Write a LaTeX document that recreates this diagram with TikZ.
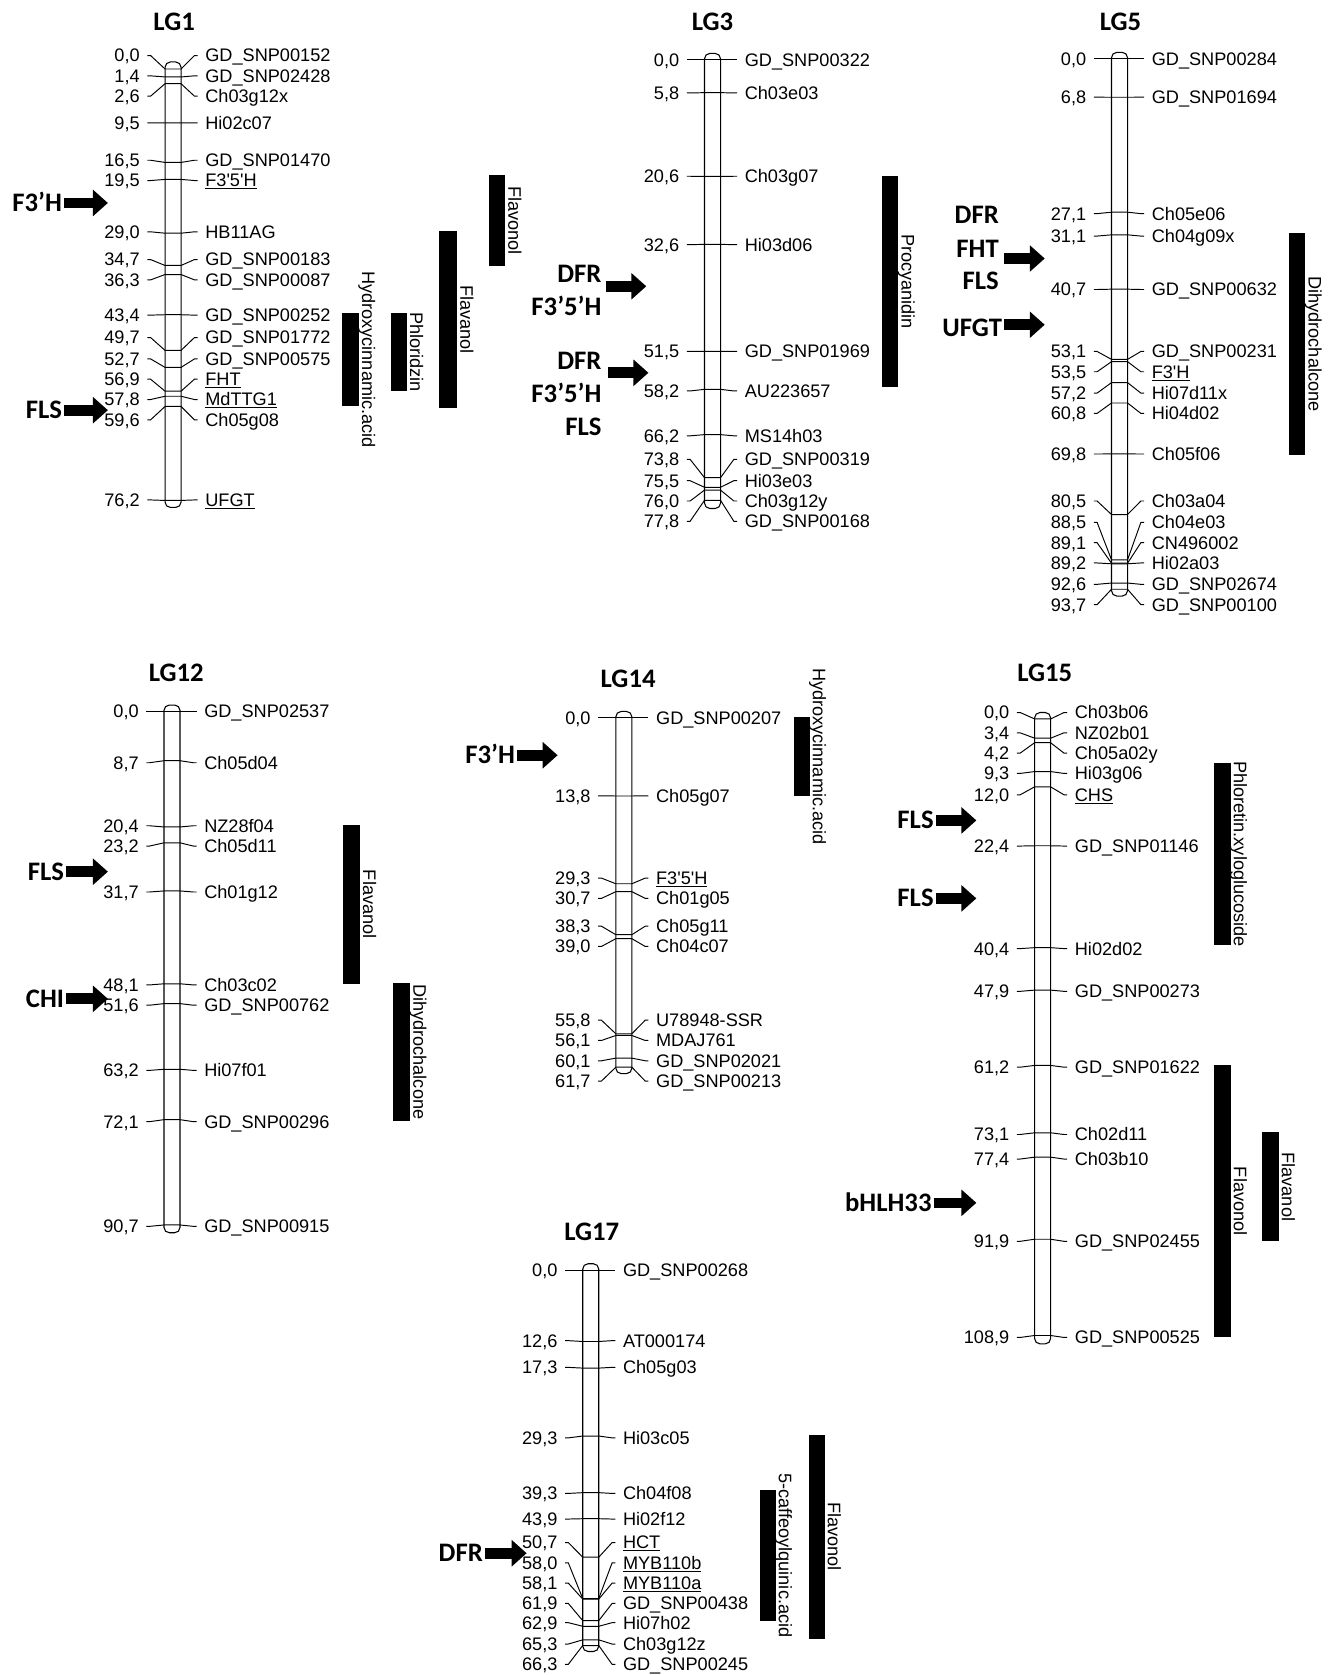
\documentclass[tikz,border=0pt]{standalone}
\usepackage{fontspec}
\usepackage{xstring}
\usetikzlibrary{arrows.meta}
\newfontfamily\mkfont{Liberation Sans}
\newfontfamily\lbfont{Carlito}

\tikzset{
  lgbar/.style={draw, fill=white, line width=1pt, rounded corners=5pt},
  tick/.style={line width=0.9pt},
  cmlab/.style={font=\mkfont\fontsize{17}{17}\selectfont, inner sep=0pt, text height=12pt, text depth=0pt, anchor=east},
  mklab/.style={font=\mkfont\fontsize{17}{17}\selectfont, inner sep=0pt, text height=12pt, text depth=0pt, anchor=west},
  lgtitle/.style={font=\lbfont\bfseries\fontsize{25}{25}\selectfont, inner sep=0pt},
  genelab/.style={font=\lbfont\bfseries\fontsize{25}{25}\selectfont, inner sep=0pt, outer sep=2pt, text height=16pt, text depth=0pt},
  genearrow/.style={line width=10pt, -{Triangle[length=14pt,width=24pt]}},
  qtlbar/.style={fill=black},
  qtllab/.style={font=\mkfont\fontsize{17}{17}\selectfont, rotate=-90, anchor=base, inner sep=0pt},
}

% one marker: #1 y of 0 cM, #2 cM, #3 label y, #4 name, #5 node prefix
\newcommand{\lgmark}[5]{%
  \pgfmathsetmacro{\ty}{#1+5.3*#2}%
  \StrSubstitute{#2}{.}{,}[\cmtxt]%
  \node[cmlab] (#5p) at (-31,#3) {\cmtxt};
  \node[mklab] (#5m) at (30,#3) {#4};
  \draw[tick] ([xshift=7pt]#5p.east) -- ++(3,0) -- (-7.5,\ty) -- (7.5,\ty)
    -- ([xshift=-10pt]#5m.west) -- ([xshift=-7pt]#5m.west);
}

\begin{document}
\begin{tikzpicture}[x=1pt,y=-1pt]
\useasboundingbox (0,0) rectangle (1249,1568);

% LG1
\begin{scope}[shift={(162,0)}]
  \node[lgtitle] (lg1) at (1,20) {LG1};
  \draw[lgbar] (-7.5,58) rectangle (7.5,475);
  \foreach \cm/\ly/\nm [count=\i] in {0.0/52/GD\_SNP00152, 1.4/71/GD\_SNP02428,
      2.6/90/Ch03g12x, 9.5/115/Hi02c07, 16.5/150/GD\_SNP01470, 19.5/169/\underline{F3'5'H},
      29.0/217/HB11AG, 34.7/243/GD\_SNP00183, 36.3/262/GD\_SNP00087, 43.4/295/GD\_SNP00252,
      49.7/316/GD\_SNP01772, 52.7/336/GD\_SNP00575, 56.9/355/\underline{FHT},
      57.8/374/\underline{MdTTG1}, 59.6/393/Ch05g08, 76.2/468/\underline{UFGT}}
    {\lgmark{64.6}{\cm}{\ly}{\nm}{a\i}}
\end{scope}

% LG3
\begin{scope}[shift={(667,0)}]
  \node[lgtitle] (lg3) at (0,20) {LG3};
  \draw[lgbar] (-7.5,50) rectangle (7.5,476);
  \foreach \cm/\ly/\nm [count=\i] in {0.0/56/GD\_SNP00322, 5.8/87/Ch03e03,
      20.6/165/Ch03g07, 32.6/229/Hi03d06, 51.5/329/GD\_SNP01969, 58.2/366/AU223657,
      66.2/408/MS14h03, 73.8/430/GD\_SNP00319, 75.5/450/Hi03e03, 76.0/469/Ch03g12y,
      77.8/488/GD\_SNP00168}
    {\lgmark{56}{\cm}{\ly}{\nm}{b\i}}
\end{scope}

% LG5
\begin{scope}[shift={(1048,0)}]
  \node[lgtitle] (lg5) at (1,20) {LG5};
  \draw[lgbar] (-7.5,49) rectangle (7.5,558);
  \foreach \cm/\ly/\nm [count=\i] in {0.0/55/GD\_SNP00284, 6.8/91/GD\_SNP01694,
      27.1/200/Ch05e06, 31.1/221/Ch04g09x, 40.7/271/GD\_SNP00632, 53.1/329/GD\_SNP00231,
      53.5/348/\underline{F3'H}, 57.2/368/Hi07d11x, 60.8/387/Hi04d02, 69.8/425/Ch05f06,
      80.5/469/Ch03a04, 88.5/489/Ch04e03, 89.1/508/CN496002, 89.2/527/Hi02a03,
      92.6/547/GD\_SNP02674, 93.7/566/GD\_SNP00100}
    {\lgmark{55}{\cm}{\ly}{\nm}{c\i}}
\end{scope}

% LG12
\begin{scope}[shift={(161,0)}]
  \node[lgtitle] (lg12) at (4,630) {LG12};
  \draw[lgbar] (-7.5,660) rectangle (7.5,1154);
  \foreach \cm/\ly/\nm [count=\i] in {0.0/666/GD\_SNP02537, 8.7/714/Ch05d04,
      20.4/773/NZ28f04, 23.2/792/Ch05d11, 31.7/835/Ch01g12, 48.1/922/Ch03c02,
      51.6/941/GD\_SNP00762, 63.2/1002/Hi07f01, 72.1/1050/GD\_SNP00296,
      90.7/1148/GD\_SNP00915}
    {\lgmark{666}{\cm}{\ly}{\nm}{d\i}}
\end{scope}

% LG14
\begin{scope}[shift={(584,0)}]
  \node[lgtitle] (lg14) at (4,635) {LG14};
  \draw[lgbar] (-7.5,666) rectangle (7.5,1005);
  \foreach \cm/\ly/\nm [count=\i] in {0.0/672/GD\_SNP00207, 13.8/745/Ch05g07,
      29.3/822/\underline{F3'5'H}, 30.7/841/Ch01g05, 38.3/867/Ch05g11, 39.0/886/Ch04c07,
      55.8/955/U78948-SSR, 56.1/974/MDAJ761, 60.1/993/GD\_SNP02021,
      61.7/1012/GD\_SNP00213}
    {\lgmark{672}{\cm}{\ly}{\nm}{e\i}}
\end{scope}

% LG15
\begin{scope}[shift={(976,0)}]
  \node[lgtitle] (lg15) at (2,630) {LG15};
  \draw[lgbar] (-7.5,667) rectangle (7.5,1258);
  \foreach \cm/\ly/\nm [count=\i] in {0.0/667/Ch03b06, 3.4/686/NZ02b01,
      4.2/705/Ch05a02y, 9.3/724/Hi03g06, 12.0/744/\underline{CHS}, 22.4/792/GD\_SNP01146,
      40.4/888/Hi02d02, 47.9/928/GD\_SNP00273, 61.2/999/GD\_SNP01622, 73.1/1062/Ch02d11,
      77.4/1085/Ch03b10, 91.9/1162/GD\_SNP02455, 108.9/1252/GD\_SNP00525}
    {\lgmark{673}{\cm}{\ly}{\nm}{f\i}}
\end{scope}

% LG17
\begin{scope}[shift={(553,0)}]
  \node[lgtitle] (lg17) at (1,1153) {LG17};
  \draw[lgbar] (-7.5,1183) rectangle (7.5,1546);
  \foreach \cm/\ly/\nm [count=\i] in {0.0/1189/GD\_SNP00268, 12.6/1255/AT000174,
      17.3/1280/Ch05g03, 29.3/1346/Hi03c05, 39.3/1398/Ch04f08, 43.9/1422/Hi02f12,
      50.7/1444/\underline{HCT}, 58.0/1463/\underline{MYB110b}, 58.1/1482/\underline{MYB110a},
      61.9/1501/GD\_SNP00438, 62.9/1519/Hi07h02, 65.3/1539/Ch03g12z,
      66.3/1558/GD\_SNP00245}
    {\lgmark{1189}{\cm}{\ly}{\nm}{g\i}}
\end{scope}

% candidate genes
\node[genelab, anchor=east] (ga1) at (60,190) {F3’H};
\coordinate (ga1tip) at (101,190);
\draw[genearrow] (ga1) -- (ga1tip);
\node[genelab, anchor=east] (ga2) at (60,384) {FLS};
\coordinate (ga2tip) at (101,384);
\draw[genearrow] (ga2) -- (ga2tip);

\node[genelab, anchor=east] (gb1) at (565,256) {DFR};
\node[genelab, anchor=east] (gb2) at (565,287) {F3’5’H};
\coordinate (gb1tail) at (567,268);
\coordinate (gb1tip) at (605,268);
\draw[genearrow] (gb1tail) -- (gb1tip);
\node[genelab, anchor=east] (gb3) at (565,338) {DFR};
\node[genelab, anchor=east] (gb4) at (565,369) {F3’5’H};
\node[genelab, anchor=east] (gb5) at (565,400) {FLS};
\coordinate (gb3tail) at (569,349);
\coordinate (gb3tip) at (607,349);
\draw[genearrow] (gb3tail) -- (gb3tip);

\node[genelab, anchor=east] (gc1) at (937,201) {DFR};
\node[genelab, anchor=east] (gc2) at (937,233) {FHT};
\node[genelab, anchor=east] (gc3) at (937,263) {FLS};
\coordinate (gc1tail) at (940,242);
\coordinate (gc1tip) at (978,242);
\draw[genearrow] (gc1tail) -- (gc1tip);
\node[genelab, anchor=east] (gc4) at (940,307) {UFGT};
\coordinate (gc4tip) at (978,304);
\draw[genearrow] (gc4.east |- gc4tip) -- (gc4tip);

\node[genelab, anchor=east] (gd1) at (62,816) {FLS};
\coordinate (gd1tip) at (101,816);
\draw[genearrow] (gd1) -- (gd1tip);
\node[genelab, anchor=east] (gd2) at (62,935) {CHI};
\coordinate (gd2tip) at (101,935);
\draw[genearrow] (gd2) -- (gd2tip);

\node[genelab, anchor=east] (ge1) at (484,707) {F3’H};
\coordinate (ge1tip) at (522,707);
\draw[genearrow] (ge1) -- (ge1tip);

\node[genelab, anchor=east] (gf1) at (876,768) {FLS};
\coordinate (gf1tip) at (914,768);
\draw[genearrow] (gf1) -- (gf1tip);
\node[genelab, anchor=east] (gf2) at (876,841) {FLS};
\coordinate (gf2tip) at (914,841);
\draw[genearrow] (gf2) -- (gf2tip);
\node[genelab, anchor=east] (gf3) at (874,1126) {bHLH33};
\coordinate (gf3tip) at (914,1126);
\draw[genearrow] (gf3) -- (gf3tip);

\node[genelab, anchor=east] (gg1) at (454,1454) {DFR};
\coordinate (gg1tip) at (493,1454);
\draw[genearrow] (gg1) -- (gg1tip);

% QTL intervals
\fill[qtlbar] (458,164) rectangle (473,249);
\node[qtllab] (q1) at (476,206.5) {Flavonol};
\fill[qtlbar] (411,216) rectangle (428,382);
\node[qtllab] (q2) at (431,299) {Flavanol};
\fill[qtlbar] (366,293) rectangle (381,366);
\node[qtllab] (q3) at (384,329.5) {Phloridzin};
\fill[qtlbar] (320,293) rectangle (336,380);
\node[qtllab] (q4) at (339,336.5) {Hydroxycinnamic.acid};

\fill[qtlbar] (826,165) rectangle (841,362);
\node[qtllab] (q5) at (844,263.5) {Procyanidin};

\fill[qtlbar] (1207,218) rectangle (1222,426);
\node[qtllab] (q6) at (1225,322) {Dihydrochalcone};

\fill[qtlbar] (321,772) rectangle (337,921);
\node[qtllab] (q7) at (340,846.5) {Flavanol};
\fill[qtlbar] (368,920) rectangle (384,1049);
\node[qtllab] (q8) at (387,984.5) {Dihydrochalcone};

\fill[qtlbar] (743,671) rectangle (758,745);
\node[qtllab] (q9) at (761,708) {Hydroxycinnamic.acid};

\fill[qtlbar] (1136,714) rectangle (1152,885);
\node[qtllab] (q10) at (1155,799.5) {Phloretin.xyloglucoside};
\fill[qtlbar] (1136,997) rectangle (1152,1252);
\node[qtllab] (q11) at (1155,1124.5) {Flavonol};
\fill[qtlbar] (1181,1060) rectangle (1197,1162);
\node[qtllab] (q12) at (1200,1111) {Flavanol};

\fill[qtlbar] (711,1395) rectangle (726,1517);
\node[qtllab] (q13) at (729,1456) {5-caffeoylquinic.acid};
\fill[qtlbar] (757,1343) rectangle (772,1534);
\node[qtllab] (q14) at (775,1438.5) {Flavonol};
\end{tikzpicture}
\end{document}
